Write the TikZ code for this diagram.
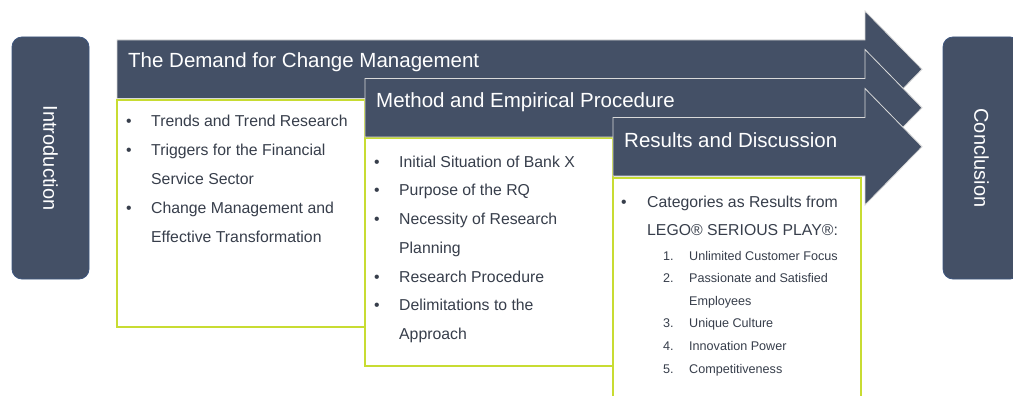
\documentclass[tikz,border=0pt]{standalone}
\usepackage{fontspec}
\setmainfont{Liberation Sans}
\usetikzlibrary{positioning}
\definecolor{slate}{RGB}{68,80,102}
\definecolor{slateline}{RGB}{62,86,128}
\definecolor{lime}{RGB}{200,220,50}
\definecolor{inkgray}{RGB}{55,62,75}
\tikzset{
    sidebox/.style = {rectangle, rounded corners=10pt, draw=slateline, line width=0.8pt, fill=slate, minimum width=77pt, minimum height=242pt, text=white, font=\fontsize{20}{24}\selectfont},
    listbox/.style = {draw=lime, line width=1.2pt, fill=white},
    arrowbody/.style = {fill=slate, draw=white!85!black, line width=0.8pt},
    heading/.style = {anchor=base west, inner sep=0pt, text=white, font=\fontsize{20.5}{24}\selectfont},
    listtext/.style = {anchor=base west, inner sep=0pt, text=inkgray, font=\fontsize{15.8}{28.8}\selectfont},
    numtext/.style = {anchor=base west, inner sep=0pt, text=inkgray, font=\fontsize{12.6}{22.6}\selectfont},
}
% body top y, body from x to the head
\newcommand{\phasearrow}[2]{%
  \filldraw[arrowbody] (#1,#2) -- (865,#2) -- (865,#2-29) -- (922,#2+29.25)
    -- (865,#2+87.5) -- (865,#2+58.5) -- (#1,#2+58.5) -- cycle;}

\begin{document}
\begin{tikzpicture}[x=1pt,y=-1pt]
\clip (0,0) rectangle (1013,396);
\fill[white] (0,0) rectangle (1013,396);
%
\node[sidebox] at (50.5,158) (intro) {\rotatebox{-90}{Introduction}};
\node[sidebox] at (981.5,158) (concl) {\rotatebox{-90}{Conclusion}};
%
\draw[listbox] (117,100) rectangle (365,327);
\draw[listbox] (365,138) rectangle (613,366);
\draw[listbox] (613,178) rectangle (861,402);
%
\phasearrow{117}{40}
\phasearrow{365}{78.5}
\phasearrow{613}{117.5}
%
\node[heading] at (128,68) (demand) {The Demand for Change Management};
\node[heading] at (376,107) (method) {Method and Empirical Procedure};
\node[heading] at (624,147) (results) {Results and Discussion};
%
\node[listtext] at (126,127) (demandlist) {\begin{tabular}[t]{@{}p{25pt}@{}l@{}}
\textbullet & Trends and Trend Research\\
\textbullet & Triggers for the Financial\\
 & Service Sector\\
\textbullet & Change Management and\\
 & Effective Transformation
\end{tabular}};
\node[listtext] at (374,167) (methodlist) {\begin{tabular}[t]{@{}p{25pt}@{}l@{}}
\textbullet & Initial Situation of Bank X\\
\textbullet & Purpose of the RQ\\
\textbullet & Necessity of Research\\
 & Planning\\
\textbullet & Research Procedure\\
\textbullet & Delimitations to the\\
 & Approach
\end{tabular}};
\node[listtext] at (621,207) (resultslist) {\begin{tabular}[t]{@{}p{26pt}@{}l@{}}
\textbullet & Categories as Results from\\
 & LEGO® SERIOUS PLAY®:
\end{tabular}};
\node[numtext] at (663,260) (catlist) {\begin{tabular}[t]{@{}p{26pt}@{}l@{}}
1. & Unlimited Customer Focus\\
2. & Passionate and Satisfied\\
 & Employees\\
3. & Unique Culture\\
4. & Innovation Power\\
5. & Competitiveness
\end{tabular}};
\end{tikzpicture}
\end{document}
